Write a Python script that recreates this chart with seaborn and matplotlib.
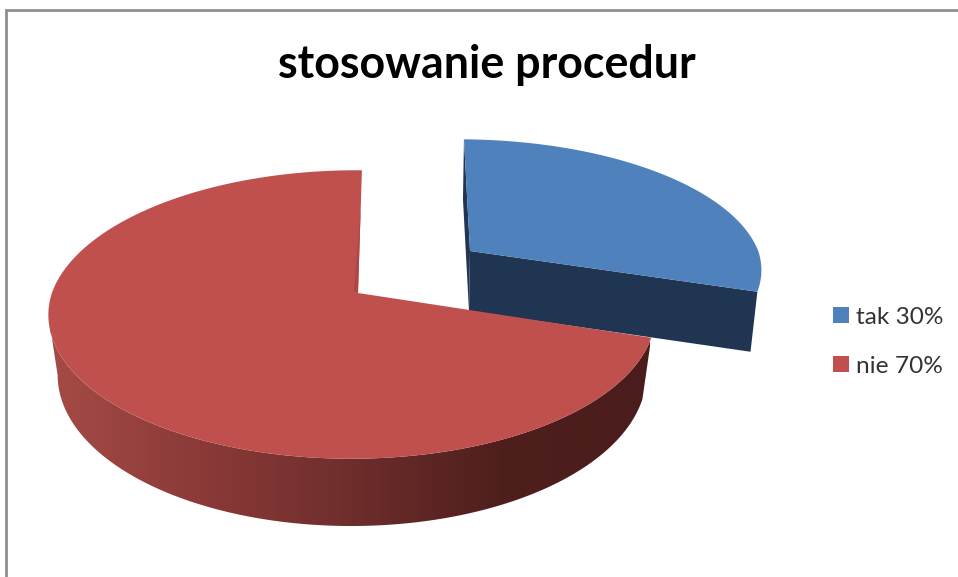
import numpy as np
import seaborn as sns
import matplotlib.pyplot as plt
from matplotlib.patches import Patch, Polygon, Rectangle

title = "stosowanie procedur"
labels = ["tak", "nie"]
shares = [30, 70]
colors = ["#4F81BD", "#C0504D"]

sns.set_theme(style="white")
plt.rcParams['font.family'] = ['Lato', 'DejaVu Sans']

# pie tilt / perspective, in pixels of the 958x577 picture
A, B, K, M = 300, 141, 0.149, 0.02


def rim(t, apex, sx=1.0, sy=1.0, skew=0.0):
    d = 1 + K * np.sin(t) + M * np.cos(t)
    yu = sy * B * np.sin(t) / d
    x = sx * A * np.cos(t) / d + skew * np.maximum(yu, 0)
    return np.column_stack([apex[0] + x, apex[1] - yu])


# slices run clockwise from 12 o'clock
fracs = np.array(shares) / sum(shares)
split = np.pi / 2 - 2 * np.pi * fracs[0]

fig = plt.figure(figsize=(9.58, 5.77), dpi=100)
ax = fig.add_axes([0, 0, 1, 1])
ax.set_xlim(0, 958)
ax.set_ylim(577, 0)
ax.axis("off")

ax.add_patch(Rectangle((6, 10), 1000, 1000, fc="white", ec="#8E8E8E", lw=2))

# exploded blue slice
blue_top = (470, 251)
blue_base = (469, 311)
t_blue = np.linspace(np.pi / 2, split, 80)
top_edge = rim(t_blue, blue_top, 0.98, 0.91, -0.054)
base_edge = rim(t_blue, blue_base, 0.96, 0.91, -0.054)
dark_blue = "#1F3552"
ax.add_patch(Polygon([blue_top, top_edge[0], base_edge[0], blue_base], fc=dark_blue, ec="none"))
ax.add_patch(Polygon([blue_top, top_edge[-1], base_edge[-1], blue_base], fc=dark_blue, ec="none"))
ax.add_patch(Polygon(np.vstack([[blue_top], top_edge]), fc=colors[0], ec="none"))

# red slice: outer wall with the left-to-right shading, then the top face
red_top = (358, 293)
red_base = (358, 352)
t_wall = np.linspace(split, -np.pi + 0.15, 200)
wall = np.vstack([rim(t_wall, red_top, skew=0.032),
                  rim(t_wall, red_base, 0.97, 1.05, 0.032)[::-1]])
wall_patch = Polygon(wall, fc="none", ec="none")
ax.add_patch(wall_patch)
shade = sns.blend_palette(["#A54B46", "#8B3A38", "#6E2E2C", "#4F1F1D", "#4A1C1B"], as_cmap=True)
img = ax.imshow(np.linspace(0, 1, 256)[None, :], cmap=shade, aspect="auto",
                extent=(50, 650, 577, 0), zorder=1.5)
img.set_clip_path(wall_patch)
ax.set_xlim(0, 958)
ax.set_ylim(577, 0)

t_red = np.linspace(split, split - 2 * np.pi * fracs[1], 200)
red_edge = rim(t_red, red_top, skew=0.032)
ax.add_patch(Polygon(np.vstack([[red_top], red_edge]), fc=colors[1], ec="none", zorder=2))

# darker strip along the cut of the red slice
cut_top = red_top + 0.7 * (red_edge[-1] - red_top)
ax.add_patch(Polygon([red_top, cut_top, (red_top[0] - 4, red_top[1] - 2)],
                     fc="#AD4644", ec="none", zorder=2.1))

fig.suptitle(title, x=0.508, y=0.888, va="center", fontsize=32.2, fontweight="bold", color="black")

handles = [Patch(fc=c, ec="none") for c in colors]
texts = [f"{n} {v}%" for n, v in zip(labels, shares)]
ax.legend(handles, texts, loc="center left", bbox_to_anchor=(0.8695, 0.408), frameon=False,
          fontsize=17.6, handlelength=0.66, handleheight=0.66, handletextpad=0.3,
          labelspacing=1.15, labelcolor="#333333", borderpad=0, borderaxespad=0)

plt.savefig("out.png", dpi=100)
plt.close()
